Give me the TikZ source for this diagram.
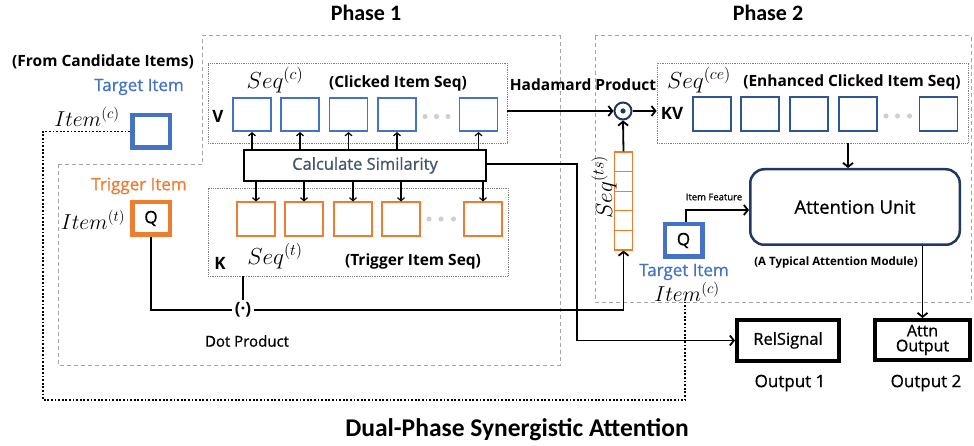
\RequirePackage{fix-cm}
\documentclass[tikz,border=0pt]{standalone}
\usepackage{fontspec}
\usepackage{graphicx}
\setmainfont{Open Sans}
\newfontfamily\calibfont{Carlito}
\newfontfamily\medfont{Open Sans}[FakeBold=0.9]
\usetikzlibrary{arrows.meta,calc}
\definecolor{myblue}{HTML}{4472C4}
\definecolor{myorange}{HTML}{ED7D31}
\definecolor{eblue}{HTML}{2F5597}
\definecolor{navy}{HTML}{1F3864}
\definecolor{slate}{HTML}{44546A}
\definecolor{dashgray}{HTML}{A6A6A6}
\definecolor{dotgray}{HTML}{7F7F7F}
\definecolor{dotfill}{HTML}{D0D0D0}
\newcommand\myfs[1]{\fontsize{#1}{#1}\selectfont}
\newcommand\sq[1]{\scalebox{1.16}{$Seq^{(#1)}$}}
\newcommand\itm[1]{\scalebox{1.08}{$Item^{(#1)}$}}
\tikzset{
  sq/.style={draw, minimum width=38pt, minimum height=33.5pt, inner sep=0pt, line width=1.6pt},
  bsq/.style={sq, draw=myblue},
  osq/.style={sq, draw=myorange},
  esq/.style={sq, draw=eblue},
  dotbox/.style={draw=dotgray, densely dotted, line width=0.8pt, inner sep=0pt},
  phasebox/.style={draw=dashgray, dash pattern=on 4pt off 3pt, line width=1pt},
  conn/.style={line width=1.8pt, -{Straight Barb[length=4pt,width=10pt]}},
  simarr/.style={line width=1.2pt, -{Straight Barb[length=3pt,width=7pt]}},
  ln/.style={line width=1.8pt},
  blackdot/.style={line width=1.8pt, dash pattern=on 1.8pt off 1.8pt},
  lbl/.style={inner sep=0pt},
  bl/.style={lbl, font=\myfs{15.5}\bfseries},
  md/.style={lbl, font=\medfont\myfs{#1}},
  mth/.style={lbl, font=\myfs{20}},
  thickbox/.style={draw, inner sep=0pt, line width=4.5pt, minimum width=37.5pt, minimum height=32.5pt, font=\medfont\myfs{17}},
}
\begin{document}
\begin{tikzpicture}[x=1pt,y=-1pt]
\useasboundingbox (0,0) rectangle (974,446);
% phase frames
\draw[phasebox] (58,165) -- (202,165) -- (202,36) -- (560,36) -- (560,365) -- (58,365) -- cycle;
\draw[phasebox] (595,36) rectangle (971,302);
\node[lbl, font=\calibfont\myfs{22}\bfseries] (ph1) at (366,13) {Phase 1};
\node[lbl, font=\calibfont\myfs{22}\bfseries] (ph2) at (768,13) {Phase 2};
\node[lbl, font=\calibfont\myfs{25.5}\bfseries] (title) at (517,430) {Dual-Phase Synergistic Attention};

% left items
\node[bl] (fromc) at (103,62) {(From Candidate Items)};
\node[md=17, text=myblue] (tit1) at (139,87) {Target Item};
\node[thickbox, draw=myblue] (tgt1) at (151,131.5) {};
\node[mth] (itc1) at (87,117) {\itm{c}};
\node[md=17, text=myorange] (trit) at (139,186) {Trigger Item};
\node[thickbox, draw=myorange] (tq) at (151,218.5) {Q};
\node[mth] (itt) at (93,220) {\itm{t}};

% clicked seq
\node[dotbox, minimum width=299pt, minimum height=80pt] (cseq) at (357.5,103) {};
\node[lbl, font=\myfs{17}\bfseries] (v) at (218,116) {V};
\node[mth] (seqc) at (275,80) {\sq{c}};
\node[bl] (clk) at (398,83) {(Clicked Item Seq)};
\node[bsq] (b1) at (252,114.5) {};
\node[bsq] (b2) at (300,114.5) {};
\node[bsq] (b3) at (348.5,114.5) {};
\node[bsq] (b4) at (397,114.5) {};
\node[bsq] (b5) at (478.5,114.5) {};
\foreach \x in {425,436.5,448} \fill[dotfill] (\x,116.5) circle (2.6pt);

% calc similarity
\node[draw, line width=2pt, minimum width=242pt, minimum height=31pt, inner sep=0pt, font=\medfont\myfs{16.5}, text=slate] (calc) at (365,165.5) {Calculate Similarity};

% trigger seq
\node[dotbox, minimum width=300pt, minimum height=88pt] (kseq) at (358,232) {};
\node[osq] (o1) at (256,219) {};
\node[osq] (o2) at (304,219) {};
\node[osq] (o3) at (353,219) {};
\node[osq] (o4) at (401,219) {};
\node[osq] (o5) at (483,219) {};
\foreach \x in {429,441,453.5} \fill[dotfill] (\x,219) circle (2.6pt);
\node[lbl, font=\myfs{17}\bfseries] (k) at (220,263) {K};
\node[mth] (seqt) at (275,256) {\sq{t}};
\node[bl] (trs) at (413,261) {(Trigger Item Seq)};

\foreach \i in {1,...,5} {
  \draw[simarr] (b\i.south |- calc.north) -- (b\i.south);
  \draw[simarr] (o\i.north |- calc.south) -- (o\i.north);
}

% dot product
\node[inner sep=2.5pt, font=\myfs{17}\bfseries] (dot) at (243,310) {(·)};
\node[md=15] (dotp) at (247,341) {Dot Product};

% phase 2
\node[dotbox, minimum width=311pt, minimum height=80pt] (eseq) at (812.5,103) {};
\node[mth] (seqce) at (699,80) {\sq{ce}};
\node[bl] (enh) at (852,82) {(Enhanced Clicked Item Seq)};
\node[lbl, font=\myfs{17}\bfseries] (kv) at (672,113) {KV};
\node[esq] (e1) at (712,114) {};
\node[esq] (e2) at (760,114) {};
\node[esq] (e3) at (809,114) {};
\node[esq] (e4) at (858,114) {};
\node[esq] (e5) at (938.5,114) {};
\foreach \x in {886,897.5,909.5} \fill[dotfill] (\x,116) circle (2.6pt);

\node[circle, draw=navy, line width=2pt, minimum size=17pt, inner sep=0pt] (had) at (623,111) {};
\fill[navy] (had.center) circle (2.6pt);
\node[bl] (hadl) at (583,85) {Hadamard Product};

% Seq ts stack
\foreach \i in {1,...,5}
  \node[draw=myorange, line width=1.2pt, minimum width=18pt, minimum height=19.6pt, inner sep=0pt] (ts\i) at (623.5,{161.8+19.6*(\i-1)}) {};
\node[mth, rotate=90] (seqts) at (604,187) {\sq{ts}};

% target item phase 2
\node[thickbox, draw=myblue] (q2) at (683.5,240.5) {Q};
\node[md=9.5] (itf) at (714,197) {Item Feature};
\node[md=17, text=myblue] (tit2) at (684,272) {Target Item};
\node[mth] (itc2) at (687,292) {\itm{c}};

% attention unit
\node[draw=navy, line width=2.5pt, rounded corners=14pt, minimum width=209.5pt, minimum height=75.5pt, inner sep=0pt, font=\medfont\myfs{18.5}] (att) at (855,207) {Attention Unit};
\node[lbl, font=\myfs{11.5}\bfseries] (typ) at (836,263) {(A Typical Attention Module)};

% outputs
\node[draw, line width=4pt, minimum width=102pt, minimum height=41pt, inner sep=0pt, font=\medfont\myfs{16.5}] (rel) at (788,340.5) {RelSignal};
\node[md=17] (out1) at (790,383) {Output 1};
\node[draw, line width=4pt, minimum width=95pt, minimum height=40pt, inner sep=0pt, font=\medfont\myfs{16}, align=center] (ao) at (922.5,340) {Attn\\[-1pt]Output};
\node[md=17] (out2) at (926,383) {Output 2};

% connectors
\draw[conn] (cseq.east |- had) -- (had.west);
\draw[conn] (had.east) -- (eseq.west |- had);
\draw[conn] (ts1.north) -- (had.south);
\draw[conn] (eseq.south -| 848,0) -- (att.north -| 848,0);
\draw[conn] (att.south -| ao) -- (ao.north);
\coordinate (ifc) at (686,210);
\draw[conn] (q2.north -| ifc) -- (ifc) -- (ifc -| att.west);
\coordinate (c1) at (577,164);
\draw[conn] (calc.east |- c1) -- (c1) |- (rel.west);
\draw[ln] (tq.south) |- (dot.west);
\draw[ln] (kseq.south -| dot) -- (dot.north);
\draw[conn] (dot.east) -| (ts5.south);
\coordinate (d1) at (43,131.5);
\coordinate (d2) at (43,400);
\coordinate (d3) at (685,400);
\draw[blackdot] (tgt1.west) -- (d1) -- (d2) -- (d3) -- (d3 |- itc2.south);
\end{tikzpicture}
\end{document}
